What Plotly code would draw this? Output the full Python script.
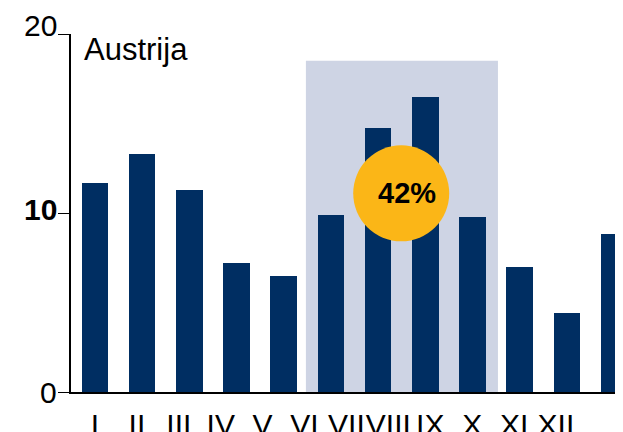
import plotly.graph_objects as go

months = ["I", "II", "III", "IV", "V", "VI", "VII", "VIII", "IX", "X", "XI", "XII"]
values = [11.7, 13.3, 11.3, 7.2, 6.5, 9.9, 14.75, 16.5, 9.75, 7.0, 4.4, 8.85]
y_ticks = [0, 10, 20]
y_ticktext = ["0", "<b>10</b>", "20"]
title_text = "Austrija"
share_text = "42%"
season_start, season_end, season_top = 4.47, 8.54, 18.5
badge_x, badge_y = 6.49, 11.1

NAVY = "#002E62"
SHADE = "#CED4E4"
GOLD = "#FBB617"
FONT = "Liberation Sans, Arial, sans-serif"
label_yshift = [0, 4, 9]

positions = list(range(len(months)))

fig = go.Figure()
fig.add_trace(go.Bar(
    x=positions, y=values, width=0.565,
    marker=dict(color=NAVY, line=dict(width=0)),
    hoverinfo="skip", showlegend=False,
))
# invisible helper trace for the label axis
fig.add_trace(go.Scatter(
    x=positions, y=[0] * len(months), xaxis="x2", yaxis="y",
    mode="markers", marker=dict(opacity=0), hoverinfo="skip", showlegend=False,
))

fig.add_shape(type="rect", xref="x", yref="y",
              x0=season_start, x1=season_end, y0=0, y1=season_top,
              fillcolor=SHADE, line=dict(width=0), layer="below")
fig.add_shape(type="circle", xref="x", yref="y",
              xsizemode="pixel", ysizemode="pixel",
              xanchor=badge_x, yanchor=badge_y,
              x0=-48, x1=48, y0=-48, y1=48,
              fillcolor=GOLD, line=dict(width=0), layer="above")

fig.add_annotation(x=badge_x, y=badge_y, xref="x", yref="y", text=f"<b>{share_text}</b>",
                   showarrow=False, xshift=6, yshift=0,
                   font=dict(family=FONT, size=29, color="black"))
fig.add_annotation(x=0.0195, y=0.957, xref="paper", yref="paper", text=title_text,
                   showarrow=False, xanchor="left", yanchor="middle",
                   font=dict(family=FONT, size=31, color="black"))

# y-axis tick labels as text next to the ticks
for val, txt, dy in zip(y_ticks, y_ticktext, label_yshift):
    fig.add_annotation(x=0, y=val, xref="paper", yref="y", text=txt,
                       showarrow=False, xanchor="right", yanchor="middle",
                       xshift=-13, yshift=dy, borderpad=0,
                       font=dict(family=FONT, size=30, color="black"))

fig.update_layout(
    template="none",
    width=623, height=432,
    margin=dict(l=63, r=8, t=26, b=48),
    paper_bgcolor="white", plot_bgcolor="white",
    font=dict(family=FONT, size=29, color="black"),
    bargap=0,
    xaxis=dict(range=[-0.508, 11.19], showgrid=False, zeroline=False, automargin=False,
               showline=True, linecolor="black", linewidth=1.5,
               ticks="", showticklabels=False, fixedrange=True),
    xaxis2=dict(overlaying="x", anchor="y", side="bottom", automargin=False,
                range=[-0.5728, 12.60], tickvals=positions, ticktext=months,
                tickangle=0,
                showgrid=False, zeroline=False, showline=False,
                ticks="outside", ticklen=6, tickcolor="rgba(0,0,0,0)",
                tickfont=dict(family=FONT, size=30, color="black")),
    yaxis=dict(range=[0, 20], tickvals=y_ticks, automargin=False,
               showticklabels=False,
               showgrid=False, zeroline=False, showline=True,
               linecolor="black", linewidth=1.5,
               ticks="outside", ticklen=11, tickcolor="black", tickwidth=1.3),
)

fig.write_html("out.html")
